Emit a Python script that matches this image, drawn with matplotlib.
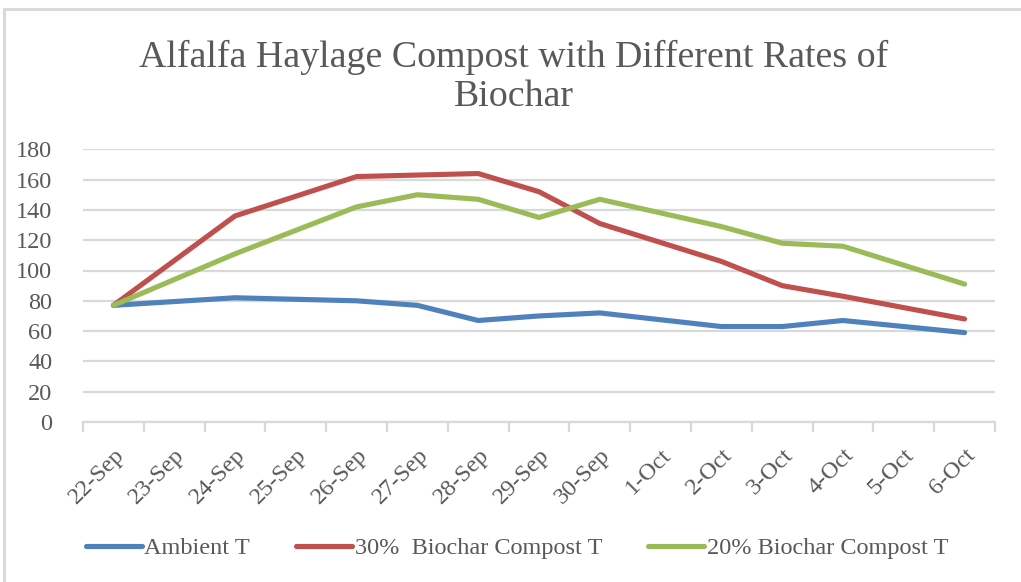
import matplotlib
matplotlib.use("Agg")
import matplotlib.pyplot as plt
from matplotlib.patches import Rectangle
import numpy as np

categories = ["22-Sep", "23-Sep", "24-Sep", "25-Sep", "26-Sep", "27-Sep", "28-Sep",
              "29-Sep", "30-Sep", "1-Oct", "2-Oct", "3-Oct", "4-Oct", "5-Oct", "6-Oct"]
ambient = [77, None, 82, None, 80, 77, 67, 70, 72, None, 63, 63, 67, None, 59]
biochar30 = [77, None, 136, None, 162, 163, 164, 152, 131, None, 106, 90, 83, None, 68]
biochar20 = [77, None, 111, None, 142, 150, 147, 135, 147, None, 129, 118, 116, None, 91]
series_names = ["Ambient T", "30%  Biochar Compost T", "20% Biochar Compost T"]
yticks = [0, 20, 40, 60, 80, 100, 120, 140, 160, 180]
title = "Alfalfa Haylage Compost with Different Rates of\nBiochar"

colors = ["#4f81bd", "#c0504d", "#9bbb59"]
txt = "#595959"
grid = "#d9d9d9"
font = "Liberation Serif"

W, H = 1021, 582
fig = plt.figure(figsize=(W / 100, H / 100), dpi=100)
plt.rcParams["font.family"] = font

fig.patches.append(Rectangle((4 / W, -0.1), 1.2, (H - 9) / H + 0.1, transform=fig.transFigure,
                             fill=False, edgecolor=grid, linewidth=2.2))

ax = fig.add_axes([83 / W, 1 - 422 / H, (995 - 83) / W, (422 - 149.3) / H])
x = np.arange(len(categories))
for vals, c, name in zip([ambient, biochar30, biochar20], colors, series_names):
    xs = [xi for xi, v in zip(x, vals) if v is not None]
    ys = [v for v in vals if v is not None]
    ax.plot(xs, ys, color=c, lw=3.7, solid_capstyle="round", solid_joinstyle="round", label=name)

ax.set_xlim(-0.5, len(categories) - 0.5)
ax.set_ylim(0, 180)
ax.set_yticks(yticks)
ax.set_yticklabels([str(v) for v in yticks], fontsize=17.5, color=txt)
ax.tick_params(axis="y", length=0, pad=22)
ax.yaxis.grid(True, color=grid, lw=1.6)
ax.set_axisbelow(True)
for s in ["top", "right", "left"]:
    ax.spines[s].set_visible(False)
ax.spines["bottom"].set_color(grid)
ax.spines["bottom"].set_linewidth(1.6)

ax.set_xticks(x)
ax.set_xticklabels(categories, fontsize=17.5, color=txt, rotation=45, ha="right", va="top",
                   rotation_mode="anchor")
ax.tick_params(axis="x", which="major", length=0, pad=16)
ax.set_xticks(np.arange(len(categories) + 1) - 0.5, minor=True)
ax.tick_params(axis="x", which="minor", length=7, width=1.6, color=grid)

fig.text(0.503, 1 - 77 / H, title, ha="center", va="center", fontsize=27.3, color=txt,
         linespacing=1.17)

leg = fig.legend(loc="center", bbox_to_anchor=(517 / W, 1 - 548 / H), ncol=3, frameon=False,
                 fontsize=17.5, handlelength=2.3, handletextpad=0.1, columnspacing=1.9,
                 labelcolor=txt)

fig.savefig("out.png", dpi=100)
